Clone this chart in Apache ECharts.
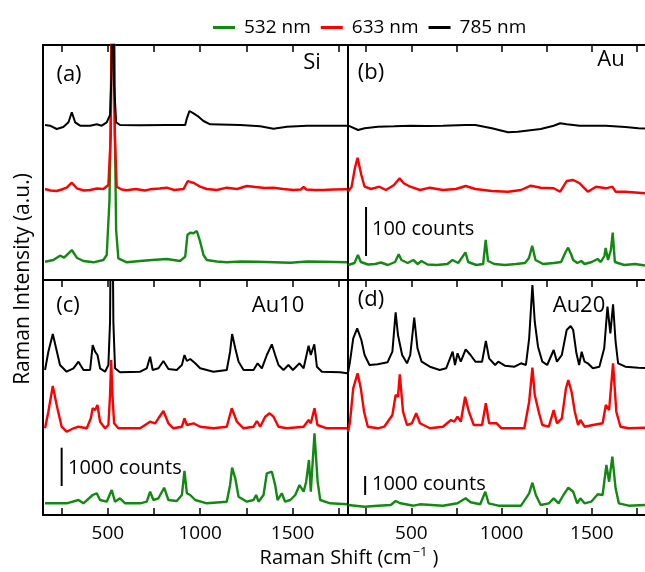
<!DOCTYPE html>
<html><head><meta charset="utf-8">
<script src="https://cdn.jsdelivr.net/npm/echarts@6/dist/echarts.min.js"></script>
<style>html,body{margin:0;padding:0;background:#fff}#c{width:645px;height:572px}</style>
</head><body><div id="c"></div>
<script>
// ---- data (x: Raman shift cm^-1, y: intensity a.u., offset per laser) ----
const seriesNames = ['532 nm', '633 nm', '785 nm'];
const xTicks = [250, 500, 750, 1000, 1250, 1500, 1750];
const xLabels = [500, 1000, 1500];
const panelLabels = ['(a)', '(b)', '(c)', '(d)'];
const panelSamples = ['Si', 'Au', 'Au10', 'Au20'];
const scaleBarTexts = ['100 counts', '1000 counts', '1000 counts'];

const siGreen = [[160,18.3],[205,20],[241,24.3],[263,22.3],[287,26.7],[305,30],[332,22.3],[368,19],[422,17.7],[476,20],[494,25],[509,80],[517,180],[527,420],[536,180],[545,50],[557,21.7],[603,17.7],[675,19],[740,20],[819,21],[891,19],[919,23.3],[931,45],[946,47.3],[964,46.7],[982,49],[1000,38.3],[1018,25],[1036,20],[1090,18.5],[1144,17.7],[1220,18.5],[1307,18.3],[1400,17.8],[1488,17.3],[1580,18.5],[1668,18.3],[1795,17.7]];
const siRed = [[160,91],[190,89.5],[223,89],[250,90.5],[277,92.3],[305,97.3],[332,91.7],[370,89.5],[404,90],[440,91.5],[476,91],[503,95],[516,145],[527,420],[538,145],[548,93.3],[575,90.5],[603,89.7],[650,91],[700,89.5],[729,90.7],[780,91.5],[819,92.3],[860,90],[910,91],[933,99],[950,97.8],[964,97.3],[1000,93.3],[1036,91],[1090,90],[1144,92.3],[1200,91],[1253,94],[1300,93],[1350,92],[1397,92.3],[1450,91],[1506,90],[1545,90.5],[1560,93],[1575,90.5],[1620,90],[1668,90],[1720,90.5],[1795,90.7]];
const siBlack = [[160,155],[187,154.3],[223,151],[259,153],[287,157.7],[305,167.7],[323,157.7],[350,154.3],[404,154.3],[440,155.7],[467,154.3],[494,157.7],[512,165],[521,211.7],[527,420],[534,195],[545,157.7],[566,155],[675,154.7],[819,155],[919,155],[928,161.7],[942,169],[964,166.7],[991,163.3],[1018,159],[1054,155.7],[1217,155],[1325,153.7],[1397,151.3],[1469,153.3],[1578,154.3],[1795,154.3]];

const auGreen = [[150,15],[185,17],[204,25],[220,18],[260,15.5],[300,16],[331,17.5],[370,15],[410,18],[430,25.7],[445,20],[480,17],[511,20],[535,16],[556,19],[590,15.5],[640,15],[700,16],[728,20],[760,17],[800,27.7],[815,18],[860,15],[898,16],[912,40],[925,19],[960,16],[1020,15],[1080,16],[1130,17],[1152,22],[1170,34.3],[1188,20],[1230,16],[1290,17],[1330,18],[1355,28],[1369,32.3],[1385,26],[1397,20],[1420,17],[1442,19],[1460,16],[1500,18],[1532,21],[1550,18],[1570,24],[1577,32],[1590,20],[1606,30],[1616,47.3],[1628,18],[1680,15],[1740,16],[1795,14.5]];
const auRed = [[150,88.5],[169,93.3],[187,111.7],[202,122.3],[223,105],[241,93.3],[277,91],[323,93.3],[359,90],[404,95],[435,101.7],[458,96.7],[494,93.3],[548,90],[603,92.3],[675,90],[747,91],[801,94],[855,91],[946,89],[1036,88.3],[1108,90],[1162,94.3],[1217,92.3],[1289,91.7],[1325,88.3],[1361,99],[1397,100],[1433,96.7],[1478,88.3],[1524,93.3],[1578,91.7],[1614,93.3],[1632,88.3],[1686,88.3],[1795,86.7]];
const auBlack = [[151,154.3],[205,150],[241,151.7],[314,153.3],[404,153.7],[494,154.3],[585,154],[675,154.3],[801,155],[855,155],[946,151.7],[1036,147.7],[1090,148.3],[1217,151],[1289,154.3],[1325,156.7],[1361,155.7],[1433,154.3],[1578,154.3],[1686,153],[1758,151.7],[1795,151.5]];

const au10Green = [[160,11.7],[277,11.7],[341,15],[368,11.7],[418,20],[440,21.7],[458,15],[494,13.3],[521,25],[539,13.3],[566,16.7],[594,11.7],[675,11.7],[711,13.3],[729,23.3],[747,15],[774,16.7],[805,27.3],[828,15],[873,14],[901,20],[915,44],[928,21.7],[946,20],[973,15],[1036,11.7],[1144,13.3],[1162,30],[1173,47.3],[1190,36.7],[1208,18.3],[1253,13.3],[1289,15],[1303,20],[1316,13.3],[1343,20],[1361,41.7],[1388,43.3],[1406,30],[1419,15],[1442,21.7],[1460,13.3],[1488,15],[1515,20],[1538,30],[1560,23.3],[1574,33.3],[1589,55],[1599,23.3],[1619,81.7],[1636,33.3],[1650,15],[1704,11.7],[1795,10.7]];
const au10Red = [[160,86.7],[178,103.3],[202,129],[223,110],[250,88.3],[277,83.3],[314,86.7],[341,88.3],[386,86.7],[408,96.7],[418,106.7],[431,105],[444,110],[458,93.3],[485,86.7],[503,90],[512,120],[518,155],[525,120],[534,91.7],[557,86.7],[675,86.7],[729,93.3],[756,91.7],[774,96.7],[801,104],[828,91.7],[855,86.7],[901,88.3],[915,96.7],[928,90],[964,91.7],[1000,88.3],[1072,86.7],[1144,88.3],[1171,106.7],[1199,93.3],[1235,86.7],[1289,88.3],[1307,94],[1325,88.3],[1352,98.3],[1376,101.7],[1397,98.3],[1424,88.3],[1469,86.7],[1560,88.3],[1587,95],[1599,91.7],[1619,106.7],[1635,90],[1686,86.7],[1795,86.7]];
const au10Black = [[160,145],[178,163.3],[202,181],[220,166.7],[241,150],[277,143.3],[314,146.7],[341,153.3],[368,145],[404,145],[418,170],[431,163.3],[444,160],[458,146.7],[485,143.3],[503,150],[512,193],[521,400],[530,193],[539,146.7],[566,142.7],[675,143.3],[711,146.7],[729,158.3],[743,145],[774,146.7],[801,154],[828,146],[873,145],[901,150],[915,160],[928,154],[946,156],[973,151.7],[1000,146.7],[1072,143.3],[1144,145],[1162,163.3],[1173,181],[1190,166.7],[1208,153.3],[1235,145],[1289,145],[1311,151.7],[1334,146.7],[1361,160],[1388,170.7],[1406,160],[1424,150],[1451,145],[1478,150],[1502,145],[1538,151.7],[1560,146.7],[1587,169.3],[1599,160],[1618,170.7],[1632,148.3],[1659,143.3],[1758,142.7],[1795,141.7]];

const au20Green = [[150,10],[241,8.3],[314,9.3],[386,10],[413,14],[440,11.7],[512,9.3],[548,10.7],[675,9.3],[756,11.7],[801,16.7],[828,12.7],[882,10.7],[910,23.3],[928,11.7],[982,9.3],[1108,9.3],[1153,21.7],[1171,32.3],[1190,20],[1217,10],[1262,11.7],[1289,16.7],[1316,11.7],[1343,20],[1370,27.3],[1397,23.3],[1419,11.7],[1437,16.7],[1460,11.7],[1497,13.3],[1533,20.7],[1560,20],[1581,50],[1596,33.3],[1614,58.3],[1632,26.7],[1650,11.7],[1704,9.3],[1795,10]];
const au20Red = [[150,83.3],[160,93.3],[178,126.7],[202,141.7],[220,126.7],[238,103.3],[259,88.3],[314,86.7],[350,88.3],[395,100],[413,120],[426,118.3],[436,140.7],[454,103.3],[476,90],[503,91.7],[527,101.7],[548,91.7],[603,86.7],[675,88.3],[720,95],[738,93.3],[756,98.3],[774,93.3],[798,118.3],[819,103.3],[846,90],[892,90],[913,111.7],[931,91.7],[973,91.7],[1000,86.7],[1126,86.7],[1153,113.3],[1171,147.3],[1184,120],[1208,101.7],[1226,90],[1262,88.3],[1289,105],[1307,91.7],[1334,96.7],[1357,126.7],[1370,135],[1388,123.3],[1406,103.3],[1424,90],[1437,95],[1460,88.3],[1506,90],[1560,91.7],[1578,110],[1596,105],[1618,151.7],[1636,103.3],[1659,88.3],[1704,86.7],[1795,87.3]];
const au20Black = [[150,143.3],[160,153.3],[178,176.7],[200,186.7],[223,175],[241,160],[268,150],[314,150.7],[368,152.7],[395,163.3],[413,202.7],[426,180],[435,181.7],[449,160],[476,151.7],[494,160],[516,197.3],[534,166.7],[557,153.3],[603,148.3],[657,145],[693,146.7],[729,163.3],[742,150],[756,161.7],[774,153.3],[801,165.7],[828,160],[855,153.3],[892,153.3],[913,174],[931,156.7],[964,150],[982,153.3],[1018,149.3],[1072,148.3],[1108,151.7],[1135,150],[1153,176.7],[1171,230],[1184,193.3],[1202,168.3],[1226,153.3],[1253,150],[1289,165],[1307,153.3],[1334,160],[1361,185],[1383,189],[1397,185],[1415,161.7],[1430,150],[1444,163.3],[1460,153.3],[1478,151.7],[1506,146.7],[1542,148.3],[1569,166.7],[1587,208.3],[1603,181.7],[1618,210.7],[1632,173.3],[1646,151.7],[1686,148.3],[1758,147.3],[1795,147]];

// scale bars: [x, y] end points in a.u. for panels b, c, d
const scaleBarB = [[249,24],[249,73]];
const scaleBarC = [[250,29],[250,67.3]];
const scaleBarD = [[244,20],[244,39]];

// ---- chart ----
const FONT = 'Open Sans';
const colors = {'532 nm':'#128a12','633 nm':'#ff0000','785 nm':'#000000'};
const widths = {'532 nm':2.4,'633 nm':2.4,'785 nm':2};
const X_MIN = 149, X_MAX = 1795, Y_MAX = 235;
const grids = [
  {left:43, top:45, width:304, height:235},
  {left:348, top:45, width:304, height:235},
  {left:43, top:280, width:304, height:235},
  {left:348, top:280, width:304, height:235}
];
function xAx(gi, pos, labels){
  return {gridIndex:gi, type:'value', position:pos, min:X_MIN, max:X_MAX,
    axisLine:{show:true, onZero:false, lineStyle:{color:'#000', width:2}},
    axisTick:{show:true, inside:true, length:7, customValues:xTicks, lineStyle:{color:'#000', width:1.5}},
    axisLabel:{show:labels, customValues:xLabels, fontFamily:FONT, fontSize:19, color:'#000', margin:9,
      formatter:(v)=>String(v)},
    splitLine:{show:false}};
}
const xAxes = [xAx(0,'top',false), xAx(1,'top',false), xAx(2,'bottom',true), xAx(2,'top',false), xAx(3,'bottom',true), xAx(3,'top',false)];
const yAxes = grids.map((g,i)=>({gridIndex:i, type:'value', min:0, max:Y_MAX,
  axisLine:{show:true, onZero:false, lineStyle:{color:'#000', width:2}}, axisTick:{show:false}, axisLabel:{show:false}, splitLine:{show:false}}));

const panelData = [[siGreen, siRed, siBlack],[auGreen, auRed, auBlack],[au10Green, au10Red, au10Black],[au20Green, au20Red, au20Black]];
const panelXAxis = [0,1,2,4];
const series = [];
panelData.forEach((arrs, p)=>{
  arrs.forEach((d, k)=>{
    const nm = seriesNames[k];
    series.push({type:'line', name:nm, xAxisIndex:panelXAxis[p], yAxisIndex:p, data:d,
      symbol:'none', showSymbol:false, clip:true, animation:false,
      lineStyle:{color:colors[nm], width:widths[nm]}, itemStyle:{color:colors[nm]}, z:2+k});
  });
});
[[scaleBarB,1],[scaleBarC,2],[scaleBarD,3]].forEach(([d,p])=>{
  series.push({type:'line', name:'scale', xAxisIndex:panelXAxis[p], yAxisIndex:p, data:d, symbol:'none', animation:false,
    lineStyle:{color:'#000', width:2}, z:6});
});

function txt(t, x, y, size, align){
  return {type:'text', x:x, y:y, style:{text:t, fontFamily:FONT, fontSize:size, fill:'#000',
    align:align||'left', textAlign:align||'left', verticalAlign:'middle', textVerticalAlign:'middle'}, z:10};
}
const graphics = [
  txt(panelLabels[0], 69, 75, 22, 'center'),
  txt(panelSamples[0], 312, 63, 22, 'center'),
  txt(panelLabels[1], 371, 73, 22, 'center'),
  txt(panelSamples[1], 611, 60, 22, 'center'),
  txt(panelLabels[2], 68, 306, 22, 'center'),
  txt(panelSamples[2], 278, 306, 22, 'center'),
  txt(panelLabels[3], 371, 300, 22, 'center'),
  txt(panelSamples[3], 579, 306, 22, 'center'),
  txt(scaleBarTexts[0], 372, 229, 20, 'left'),
  txt(scaleBarTexts[1], 68, 468, 20, 'left'),
  txt(scaleBarTexts[2], 372, 484, 20, 'left'),
  {type:'text', x:23, y:279, rotation:Math.PI/2, style:{text:'Raman Intensity (a.u.)', fontFamily:FONT, fontSize:21, fill:'#000',
    align:'center', textAlign:'center', verticalAlign:'middle', textVerticalAlign:'middle'}},
  {type:'text', x:349, y:558, style:{text:'{a|Raman Shift (cm}{s|−1}{a| )}', fill:'#000', align:'center', textAlign:'center', verticalAlign:'middle', textVerticalAlign:'middle',
    rich:{a:{fontFamily:FONT, fontSize:20, fill:'#000', lineHeight:24}, s:{fontFamily:FONT, fontSize:13, fill:'#000', verticalAlign:'top', lineHeight:24, padding:[0,0,8,1]}}}}
];

const chart = echarts.init(document.getElementById('c'), null, {renderer:'canvas'});
chart.setOption({
  animation:false,
  backgroundColor:'#fff',
  legend:{data:seriesNames, left:208, top:13, icon:'rect', itemWidth:22, itemHeight:3, itemGap:10,
    textStyle:{fontFamily:FONT, fontSize:19, color:'#000', padding:[0,0,0,4]}},
  grid:grids,
  xAxis:xAxes,
  yAxis:yAxes,
  series:series,
  graphic:graphics
});
</script></body></html>
